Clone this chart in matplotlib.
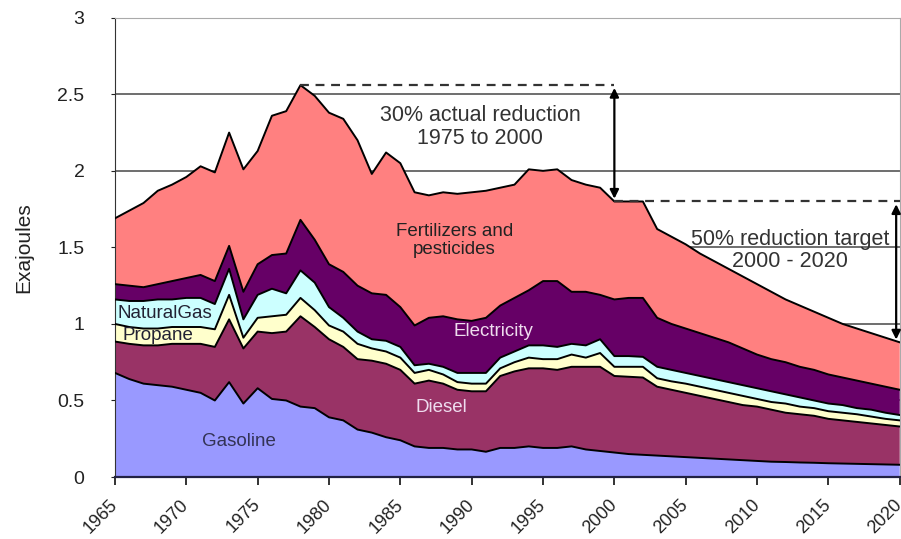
import numpy as np
import matplotlib.pyplot as plt

plt.rcParams['font.family'] = ['Liberation Sans', 'DejaVu Sans']

years = list(range(1965, 2021))

# cumulative tops of each stacked layer (Exajoules)
gasoline_top = [0.68, 0.64, 0.61, 0.60, 0.59, 0.57, 0.55, 0.50, 0.62, 0.48,
                0.58, 0.51, 0.50, 0.46, 0.45, 0.39, 0.37, 0.31, 0.29, 0.26,
                0.24, 0.20, 0.19, 0.19, 0.18, 0.18, 0.165, 0.19, 0.19, 0.20,
                0.19, 0.19, 0.20, 0.18, 0.17, 0.16, 0.15, 0.145, 0.14,
                0.135, 0.13, 0.125, 0.12, 0.115, 0.11, 0.105, 0.10, 0.098, 0.095,
                0.093, 0.09, 0.088, 0.086, 0.084, 0.082, 0.08]
diesel_top = [0.885, 0.87, 0.86, 0.86, 0.87, 0.87, 0.87, 0.85, 1.03, 0.84,
              0.95, 0.94, 0.95, 1.05, 0.98, 0.90, 0.85, 0.77, 0.76, 0.74,
              0.70, 0.61, 0.63, 0.61, 0.57, 0.56, 0.56, 0.66, 0.69, 0.71,
              0.71, 0.70, 0.72, 0.72, 0.72, 0.66, 0.655, 0.65, 0.59,
              0.57, 0.55, 0.53, 0.51, 0.49, 0.47, 0.46, 0.44, 0.42, 0.41,
              0.40, 0.38, 0.37, 0.36, 0.35, 0.34, 0.33]
propane_top = [1.00, 0.98, 0.97, 0.97, 0.98, 0.98, 0.98, 0.965, 1.19, 0.91,
               1.04, 1.05, 1.06, 1.17, 1.09, 0.99, 0.95, 0.87, 0.84, 0.82,
               0.78, 0.68, 0.70, 0.67, 0.62, 0.61, 0.61, 0.71, 0.75, 0.78,
               0.77, 0.77, 0.80, 0.78, 0.81, 0.72, 0.72, 0.72, 0.645,
               0.625, 0.61, 0.59, 0.57, 0.55, 0.53, 0.51, 0.49, 0.48, 0.46,
               0.45, 0.43, 0.42, 0.41, 0.395, 0.38, 0.37]
natgas_top = [1.16, 1.15, 1.15, 1.16, 1.16, 1.17, 1.17, 1.13, 1.36, 1.03,
              1.19, 1.23, 1.20, 1.35, 1.27, 1.11, 1.04, 0.95, 0.90, 0.89,
              0.85, 0.73, 0.74, 0.72, 0.68, 0.68, 0.68, 0.78, 0.82, 0.86,
              0.86, 0.85, 0.87, 0.86, 0.90, 0.79, 0.79, 0.785, 0.72,
              0.70, 0.68, 0.66, 0.64, 0.62, 0.60, 0.58, 0.56, 0.54, 0.52,
              0.50, 0.48, 0.47, 0.45, 0.44, 0.42, 0.405]
electricity_top = [1.26, 1.25, 1.24, 1.26, 1.28, 1.30, 1.32, 1.28, 1.51, 1.21,
                   1.39, 1.45, 1.46, 1.68, 1.55, 1.39, 1.34, 1.25, 1.20, 1.19,
                   1.11, 0.99, 1.04, 1.05, 1.03, 1.02, 1.04, 1.12, 1.17, 1.22,
                   1.28, 1.28, 1.21, 1.21, 1.19, 1.16, 1.17, 1.17, 1.04,
                   1.00, 0.97, 0.94, 0.91, 0.88, 0.84, 0.80, 0.77, 0.75, 0.72,
                   0.70, 0.67, 0.65, 0.63, 0.61, 0.59, 0.57]
total_top = [1.69, 1.74, 1.79, 1.87, 1.91, 1.96, 2.03, 1.99, 2.25, 2.01,
             2.13, 2.36, 2.39, 2.56, 2.49, 2.38, 2.34, 2.20, 1.98, 2.12,
             2.05, 1.86, 1.84, 1.86, 1.85, 1.86, 1.87, 1.89, 1.91, 2.01,
             2.00, 2.01, 1.94, 1.91, 1.89, 1.80, 1.80, 1.80, 1.62,
             1.57, 1.52, 1.46, 1.41, 1.36, 1.31, 1.26, 1.21, 1.16, 1.12,
             1.08, 1.04, 1.00, 0.97, 0.94, 0.91, 0.88]

layers = [gasoline_top, diesel_top, propane_top, natgas_top, electricity_top, total_top]
colors = ['#9999FF', '#993366', '#FFFFCC', '#CCFFFF', '#660066', '#FF8080']

peak_year, peak_val = 1978, 2.56
mid_year, mid_val = 2000, 1.80
end_year, end_val = 2020, 0.88

fig = plt.figure(figsize=(9.01, 5.39), dpi=100)
ax = fig.add_axes([0.1276, 0.115, 0.871, 0.852])

prev = np.zeros(len(years))
for top, c in zip(layers, colors):
    top = np.array(top)
    ax.fill_between(years, prev, top, facecolor=c, edgecolor='none', zorder=2)
    ax.plot(years, top, color='black', lw=1.4, zorder=3)
    prev = top

ax.set_xlim(1965, 2020)
ax.set_ylim(0, 3)
ax.set_yticks(np.arange(0, 3.01, 0.5))
ax.set_yticklabels(['0', '0.5', '1', '1.5', '2', '2.5', '3'])
ax.set_xticks(range(1965, 2021, 5))
ax.tick_params(axis='x', labelrotation=45, labelsize=13, length=6, width=1.3,
               direction='out', pad=12, colors='#222222')
ax.tick_params(axis='y', labelsize=14, length=3, direction='out', pad=19, colors='#222222')
for lab in ax.get_xticklabels():
    lab.set_ha('right')
    lab.set_va('center')
    lab.set_rotation_mode('anchor')
ax.yaxis.grid(True, color='#555555', lw=1.2, zorder=0)
ax.set_axisbelow(True)
ax.spines['top'].set_color('#aaaaaa')
ax.spines['right'].set_color('#aaaaaa')
ax.spines['left'].set_color('#333333')
ax.spines['bottom'].set_color('#222244')
ax.spines['bottom'].set_linewidth(1.6)
ax.set_ylabel('Exajoules', fontsize=15, color='#222222')
ax.yaxis.set_label_coords(-0.104, 0.5)

# annotations
ax.plot([peak_year, mid_year], [peak_val, peak_val], color='#333333', lw=1.6, zorder=4, dashes=(4, 3))
ax.plot([mid_year, end_year], [mid_val, mid_val], color='#333333', lw=1.6, zorder=4, dashes=(4, 3))
ax.annotate('', xy=(mid_year, mid_val), xytext=(mid_year, peak_val),
            arrowprops=dict(arrowstyle='<|-|>', color='black', lw=1.6, mutation_scale=13), zorder=5)
ax.annotate('', xy=(end_year - 0.25, end_val), xytext=(end_year - 0.25, mid_val),
            arrowprops=dict(arrowstyle='<|-|>', color='black', lw=1.6, mutation_scale=13), zorder=5)
ax.text(1990.6, 2.285, '30% actual reduction\n1975 to 2000', ha='center', va='center',
        fontsize=15.5, color='#333333', linespacing=1.1, zorder=6)
ax.text(2012.3, 1.48, '50% reduction target\n2000 - 2020', ha='center', va='center',
        fontsize=15.5, color='#333333', linespacing=1.1, zorder=6)

# layer labels
ax.text(1988.8, 1.547, 'Fertilizers and\npesticides', ha='center', va='center', fontsize=13.5,
        color='#222222', linespacing=1.05, zorder=6)
ax.text(1991.5, 0.95, 'Electricity', ha='center', va='center', fontsize=13.5, color='#eedcee', zorder=6)
ax.text(1987.9, 0.455, 'Diesel', ha='center', va='center', fontsize=13.5, color='#eedcee', zorder=6)
ax.text(1973.7, 0.23, 'Gasoline', ha='center', va='center', fontsize=13.5, color='#333355', zorder=6)
ax.text(1965.15, 1.07, 'NaturalGas', ha='left', va='center', fontsize=13.5, color='#222233', zorder=6)
ax.text(1965.5, 0.925, 'Propane', ha='left', va='center', fontsize=13.5, color='#222233', zorder=6)

fig.savefig('out.png', dpi=100)
